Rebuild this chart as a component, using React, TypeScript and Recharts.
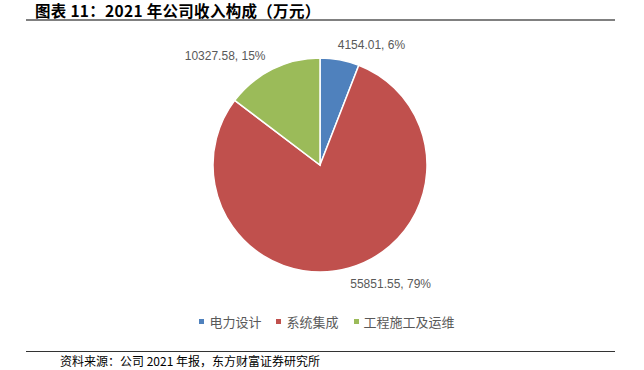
import React from "react";
import { PieChart, Pie, Cell, Legend } from "recharts";

const categories = ["电力设计", "系统集成", "工程施工及运维"];
const revenue = [4154.01, 55851.55, 10327.58];
const colors = ["#4F81BD", "#C0504D", "#9BBB59"];
const titleText = "图表 11：2021 年公司收入构成（万元）";
const sourceText = "资料来源：公司 2021 年报，东方财富证券研究所";

const data = categories.map((name, i) => ({ name, value: revenue[i] }));

const RAD = Math.PI / 180;

const renderLabel = (props: any) => {
  const { cx, cy, midAngle, outerRadius, value, percent } = props;
  const s = Math.cos(midAngle * RAD);
  const c = Math.sin(midAngle * RAD);
  const r = outerRadius + 16;
  const text = `${Number(value).toFixed(2)}, ${Math.round(percent * 100)}%`;
  const halfW = text.length * 3.1;
  const x = cx + 2 + r * s + Math.sign(s) * halfW * (0.6 + Math.abs(s));
  const y = cy - r * c + 1;
  return (
    <text
      x={x}
      y={y}
      textAnchor="middle"
      dominantBaseline="central"
      fill="#595959"
      fontSize={12}
      fontFamily="'Liberation Sans', Arial, sans-serif"
    >
      {text}
    </text>
  );
};

const renderLegend = () => (
  <div
    style={{
      display: "flex",
      justifyContent: "center",
      alignItems: "center",
      gap: 15,
      fontFamily: "'Noto Sans CJK SC', sans-serif",
      fontSize: 13,
      color: "#595959",
      marginLeft: 10,
    }}
  >
    {categories.map((name, i) => (
      <div key={name} style={{ display: "flex", alignItems: "center" }}>
        <span
          style={{
            display: "inline-block",
            width: 5,
            height: 5,
            background: colors[i],
            marginRight: 5,
          }}
        />
        <span>{name}</span>
      </div>
    ))}
  </div>
);

export default function App() {
  return (
    <div
      style={{
        position: "absolute",
        left: 0,
        top: 0,
        width: 644,
        height: 370,
        background: "#fff",
        overflow: "hidden",
      }}
    >
      <div
        style={{
          position: "absolute",
          left: 35,
          top: 2,
          fontFamily: "'Noto Sans CJK SC', sans-serif",
          fontWeight: 700,
          fontSize: 15.5,
          lineHeight: "16px",
          color: "#000",
          whiteSpace: "nowrap",
          letterSpacing: 0.3,
        }}
      >
        {titleText}
      </div>
      <div
        style={{
          position: "absolute",
          left: 26,
          top: 19,
          width: 589,
          height: 2,
          background: "#808080",
        }}
      />
      <div style={{ position: "absolute", left: 0, top: 0 }}>
        <PieChart width={644} height={345} margin={{ top: 0, right: 0, bottom: 0, left: 0 }}>
          <Pie
            data={data}
            dataKey="value"
            nameKey="name"
            cx={320}
            cy={165}
            outerRadius={107}
            startAngle={90}
            endAngle={-270}
            stroke="#ffffff"
            strokeWidth={1.5}
            label={renderLabel}
            labelLine={false}
            isAnimationActive={false}
          >
            {data.map((d, i) => (
              <Cell key={d.name} fill={colors[i]} />
            ))}
          </Pie>
          <Legend
            content={renderLegend}
            wrapperStyle={{ position: "absolute", top: 312, left: 0, width: 644 }}
          />
        </PieChart>
      </div>
      <div
        style={{
          position: "absolute",
          left: 26,
          top: 351,
          width: 589,
          height: 1,
          background: "#333",
        }}
      />
      <div
        style={{
          position: "absolute",
          left: 60,
          top: 352,
          fontFamily: "'Noto Sans CJK SC', sans-serif",
          fontSize: 12,
          lineHeight: "17px",
          color: "#000",
          whiteSpace: "nowrap",
        }}
      >
        {sourceText}
      </div>
    </div>
  );
}
